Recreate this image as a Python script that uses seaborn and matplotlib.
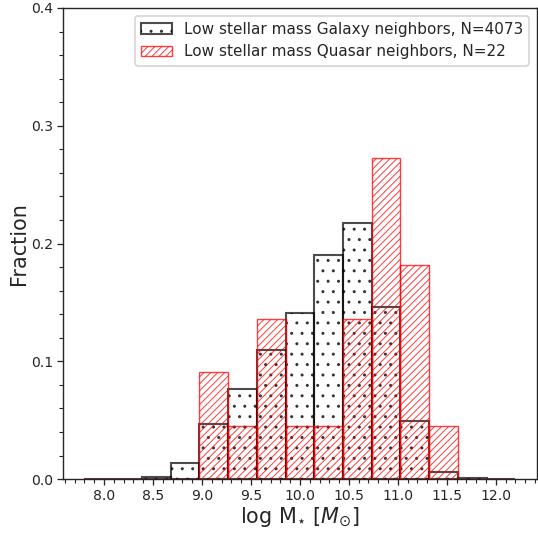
import numpy as np
import pandas as pd
import matplotlib
matplotlib.use("Agg")
import matplotlib.pyplot as plt
from matplotlib.ticker import AutoMinorLocator, MultipleLocator
import seaborn as sns

# Bin edges (log stellar mass)
bin_edges = list(np.linspace(7.8, 12.2, 16))

# Fractions per bin
galaxy_frac = [0.0005, 0.0005, 0.002, 0.0136, 0.0467, 0.0767, 0.110, 0.141,
               0.190, 0.2177, 0.146, 0.0495, 0.0065, 0.001, 0.0005]
quasar_counts = [0, 0, 0, 0, 2, 1, 3, 1, 1, 3, 6, 4, 1, 0, 0]
quasar_N = 22
quasar_frac = [c / quasar_N for c in quasar_counts]

galaxy_label = "Low stellar mass Galaxy neighbors, N=4073"
quasar_label = "Low stellar mass Quasar neighbors, N=22"

edges = np.array(bin_edges)
centers = 0.5 * (edges[:-1] + edges[1:])
df = pd.DataFrame({"mass": centers, "galaxy": galaxy_frac, "quasar": quasar_frac})

DPI = 125


def pt(px):
    return px * 72.0 / DPI


sns.set_style("ticks")
plt.rcParams["font.family"] = ["DejaVu Sans"]
plt.rcParams["hatch.linewidth"] = pt(1.0)
plt.rcParams["axes.linewidth"] = pt(1.4)

fig = plt.figure(figsize=(538 / DPI, 533 / DPI), dpi=DPI)
ax = fig.add_axes([0.117, 0.101, 0.881, 0.884])

sns.histplot(data=df, x="mass", weights="galaxy", bins=bin_edges, stat="count",
             fill=False, color="black", alpha=0.7, linewidth=pt(2.1), hatch="..",
             label=galaxy_label, ax=ax)
sns.histplot(data=df, x="mass", weights="quasar", bins=bin_edges, stat="count",
             fill=False, color="red", alpha=0.75, linewidth=pt(1.4), hatch="//////",
             label=quasar_label, ax=ax)

ax.set_ylim(0, 0.4)
ax.yaxis.set_major_locator(MultipleLocator(0.1))
ax.xaxis.set_major_locator(MultipleLocator(0.5))
ax.xaxis.set_minor_locator(AutoMinorLocator(5))
ax.yaxis.set_minor_locator(AutoMinorLocator(5))
ax.tick_params(which="major", direction="out", length=pt(6), width=pt(1.3),
               labelsize=pt(14), pad=pt(4))
ax.tick_params(which="minor", direction="out", length=pt(4), width=pt(1.1))

ax.set_xlabel(r"log M$_{\star}$ [$M_{\odot}$]", fontsize=pt(20.8), labelpad=pt(2))
ax.set_ylabel("Fraction", fontsize=pt(20.8), labelpad=pt(2))

ax.legend(loc="upper right", fontsize=pt(15.3), frameon=True)

fig.savefig("out.png", dpi=DPI)
